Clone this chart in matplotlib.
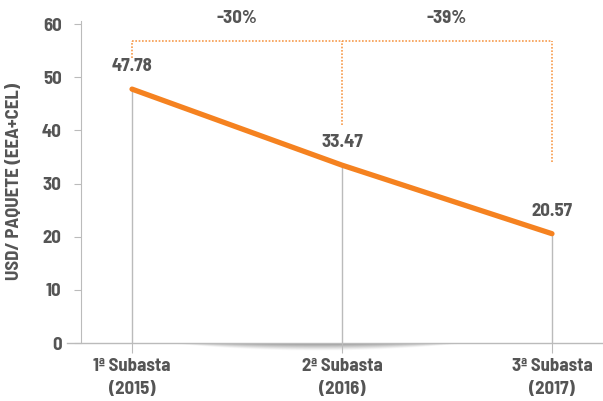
import numpy as np
import matplotlib.pyplot as plt

plt.rcParams["font.family"] = ["Barlow Semi Condensed", "Roboto Condensed", "DejaVu Sans"]

# datos
subastas = ["1ª Subasta\n(2015)", "2ª Subasta\n(2016)", "3ª Subasta\n(2017)"]
precios = [47.78, 33.47, 20.57]
cambios = ["-30%", "-39%"]
bracket_y = 56.8
bracket_bottom = [53.6, 41.0, 34.0]

naranja = "#F58220"
gris_txt = "#555555"
gris_lin = "#BBBBBB"
fs = 13.5
peso = "bold"

fig = plt.figure(figsize=(6.03, 4.01), dpi=100)
ax = fig.add_axes([81 / 603, 58 / 401, 1 - 81 / 603, 322 / 401])

x = np.arange(len(precios))

# sombra bajo el eje (forma de lente)
sh = fig.add_axes([160 / 603, 50 / 401, 370 / 603, 8 / 401])
u = np.linspace(-1, 1, 370)
v = np.linspace(0, 1, 16)  # 0 abajo, 1 arriba
grosor = np.clip(1 - ((u + 0.15) / 0.85) ** 2, 0, None)
prof = 1 - v[:, None]
alpha = np.clip(1 - prof / (grosor[None, :] + 1e-6), 0, 1) ** 1.2 * grosor[None, :] ** 0.4
img = np.zeros((16, 370, 4))
img[..., :3] = 0.5
img[..., 3] = alpha
sh.imshow(img, aspect="auto", origin="lower")
sh.axis("off")
sh.set_zorder(0)
ax.set_zorder(1)
ax.patch.set_alpha(0)

# lineas verticales grises
for xi, p in zip(x, precios):
    ax.plot([xi, xi], [0, p], color=gris_lin, lw=1, zorder=2)

ax.plot(x, precios, color=naranja, lw=3.8, solid_capstyle="round", zorder=3)

for xi, p in zip(x, precios):
    ax.text(xi, p + 2.6, f"{p:.2f}", ha="center", va="bottom", fontsize=fs,
            fontweight=peso, color=gris_txt)

# corchetes punteados
ax.plot([x[0], x[-1]], [bracket_y, bracket_y], color=naranja, lw=1.2,
        ls=(0, (1, 1)), alpha=0.8, zorder=2)
for xi, b in zip(x, bracket_bottom):
    ax.plot([xi, xi], [b, bracket_y], color=naranja, lw=1.2, ls=(0, (1, 1)),
            alpha=0.8, zorder=2)
for i, c in enumerate(cambios):
    ax.text(i + 0.5, 59.4, c, ha="center", va="bottom", fontsize=fs,
            fontweight=peso, color=gris_txt, clip_on=False)

ax.set_xlim(-0.243, 2.243)
ax.set_ylim(0, 60.6)
ax.set_yticks(range(0, 61, 10))
ax.set_xticks(x)
ax.set_xticklabels(subastas, fontsize=fs, fontweight=peso, color=gris_txt,
                   linespacing=1.45)
for t in ax.get_yticklabels():
    t.set_fontsize(fs)
    t.set_fontweight(peso)
    t.set_color(gris_txt)
ax.tick_params(axis="y", length=5, color=gris_lin, pad=9)
ax.tick_params(axis="x", length=7, color=gris_lin, pad=4)

for s in ["top", "right", "bottom"]:
    ax.spines[s].set_visible(False)
ax.spines["left"].set_color(gris_lin)
ax.plot([-0.31, 2.243], [0, 0], color=gris_lin, lw=1, clip_on=False, zorder=2)

ax.set_ylabel("USD/ PAQUETE (EEA+CEL)", fontsize=fs, fontweight=peso,
              color=gris_txt)
ax.yaxis.set_label_coords(-0.112, 0.5)

fig.savefig("out.png", dpi=100)
